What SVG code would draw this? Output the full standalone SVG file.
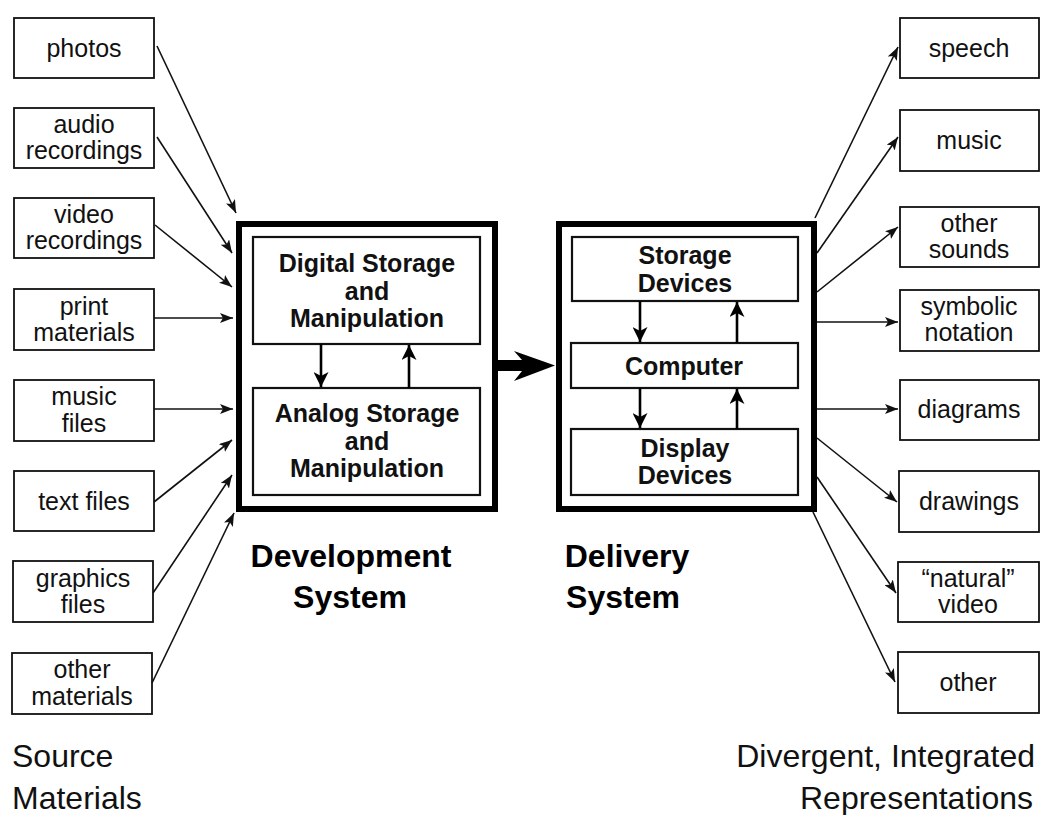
<svg xmlns="http://www.w3.org/2000/svg" width="1041" height="815" viewBox="0 0 1041 815">
  <style>
    .box { fill: #fff; stroke: #111; stroke-width: 1.8; }
    .inner { fill: #fff; stroke: #111; stroke-width: 2.2; }
    .outer { fill: #fff; stroke: #000; stroke-width: 6; }
    .lbl { font-family: "Liberation Sans", Arial, sans-serif; font-size: 25px; fill: #111; text-anchor: middle; }
    .blbl { font-family: "Liberation Sans", Arial, sans-serif; font-size: 25px; font-weight: bold; fill: #111; text-anchor: middle; }
    .title { font-family: "Liberation Sans", Arial, sans-serif; font-size: 32px; font-weight: bold; fill: #000; text-anchor: middle; }
    .cap { font-family: "Liberation Sans", Arial, sans-serif; font-size: 32px; fill: #111; }
    .conn { stroke: #111; stroke-width: 1.6; fill: none; marker-end: url(#ah); }
    .flow { stroke: #000; stroke-width: 2.6; fill: none; marker-end: url(#ahb); }
  </style>
  <defs>
    <marker id="ah" viewBox="0 0 13 10" refX="13" refY="5" markerWidth="13" markerHeight="10" orient="auto" markerUnits="userSpaceOnUse">
      <path d="M0,0 L13,5 L0,10 L3,5 z" fill="#111"/>
    </marker>
    <marker id="ahb" viewBox="0 0 15 15" refX="15" refY="7.5" markerWidth="15" markerHeight="15" orient="auto" markerUnits="userSpaceOnUse">
      <path d="M0,0 L15,7.5 L0,15 L4,7.5 z" fill="#000"/>
    </marker>
  </defs>

  <!-- source material boxes -->
  <g id="src-photos"><rect class="box" x="14" y="18" width="140" height="60"/><text class="lbl" x="84" y="57">photos</text></g>
  <g id="src-audio"><rect class="box" x="14" y="108" width="140" height="60"/><text class="lbl" x="84" y="133">audio</text><text class="lbl" x="84" y="159">recordings</text></g>
  <g id="src-video"><rect class="box" x="14" y="198" width="140" height="60"/><text class="lbl" x="84" y="223">video</text><text class="lbl" x="84" y="249">recordings</text></g>
  <g id="src-print"><rect class="box" x="14" y="289" width="140" height="61"/><text class="lbl" x="84" y="315">print</text><text class="lbl" x="84" y="341">materials</text></g>
  <g id="src-music"><rect class="box" x="14" y="380" width="140" height="61"/><text class="lbl" x="84" y="405">music</text><text class="lbl" x="84" y="432">files</text></g>
  <g id="src-text"><rect class="box" x="14" y="471" width="140" height="60"/><text class="lbl" x="84" y="510">text files</text></g>
  <g id="src-graphics"><rect class="box" x="13" y="561" width="140" height="61"/><text class="lbl" x="83" y="587">graphics</text><text class="lbl" x="83" y="613">files</text></g>
  <g id="src-other"><rect class="box" x="12" y="653" width="140" height="61"/><text class="lbl" x="82" y="678">other</text><text class="lbl" x="82" y="705">materials</text></g>

  <!-- development system -->
  <g id="dev-system">
    <rect class="outer" x="239" y="224" width="256" height="285"/>
    <g id="dev-digital">
      <rect class="inner" x="253" y="237" width="227" height="107"/>
      <text class="blbl" x="367" y="272">Digital Storage</text>
      <text class="blbl" x="367" y="300">and</text>
      <text class="blbl" x="367" y="327">Manipulation</text>
    </g>
    <g id="dev-analog">
      <rect class="inner" x="253" y="388" width="227" height="107"/>
      <text class="blbl" x="367" y="422">Analog Storage</text>
      <text class="blbl" x="367" y="450">and</text>
      <text class="blbl" x="367" y="477">Manipulation</text>
    </g>
    <text class="title" x="351" y="567">Development</text>
    <text class="title" x="350" y="608">System</text>
  </g>

  <!-- delivery system -->
  <g id="del-system">
    <rect class="outer" x="559" y="224" width="255" height="285"/>
    <g id="del-storage">
      <rect class="inner" x="572" y="237" width="226" height="64"/>
      <text class="blbl" x="685" y="264">Storage</text>
      <text class="blbl" x="685" y="292">Devices</text>
    </g>
    <g id="del-computer">
      <rect class="inner" x="571" y="343" width="227" height="45"/>
      <text class="blbl" x="684" y="375">Computer</text>
    </g>
    <g id="del-display">
      <rect class="inner" x="571" y="429" width="227" height="66"/>
      <text class="blbl" x="685" y="457">Display</text>
      <text class="blbl" x="685" y="484">Devices</text>
    </g>
    <text class="title" x="627" y="567">Delivery</text>
    <text class="title" x="623" y="608">System</text>
  </g>

  <!-- representation boxes -->
  <g id="out-speech"><rect class="box" x="900" y="18" width="139" height="60"/><text class="lbl" x="969" y="57">speech</text></g>
  <g id="out-music"><rect class="box" x="900" y="110" width="139" height="61"/><text class="lbl" x="969" y="149">music</text></g>
  <g id="out-sounds"><rect class="box" x="900" y="207" width="139" height="60"/><text class="lbl" x="969" y="232">other</text><text class="lbl" x="969" y="258">sounds</text></g>
  <g id="out-symbolic"><rect class="box" x="900" y="290" width="139" height="61"/><text class="lbl" x="969" y="315">symbolic</text><text class="lbl" x="969" y="341">notation</text></g>
  <g id="out-diagrams"><rect class="box" x="900" y="380" width="139" height="60"/><text class="lbl" x="969" y="418">diagrams</text></g>
  <g id="out-drawings"><rect class="box" x="899" y="471" width="140" height="61"/><text class="lbl" x="969" y="510">drawings</text></g>
  <g id="out-video"><rect class="box" x="898" y="562" width="141" height="60"/><text class="lbl" x="968" y="587">“natural”</text><text class="lbl" x="968" y="613">video</text></g>
  <g id="out-other"><rect class="box" x="898" y="652" width="141" height="61"/><text class="lbl" x="968" y="691">other</text></g>

  <!-- captions -->
  <g id="cap-source">
    <text class="cap" x="12" y="767">Source</text>
    <text class="cap" x="12" y="809">Materials</text>
  </g>
  <g id="cap-reps">
    <text class="cap" x="1035" y="767" text-anchor="end">Divergent, Integrated</text>
    <text class="cap" x="1033" y="809" text-anchor="end">Representations</text>
  </g>

  <!-- connectors -->
  <g id="connectors">
    <line class="conn" x1="157" y1="46" x2="236" y2="213"/>
    <line class="conn" x1="157" y1="137" x2="232" y2="253"/>
    <line class="conn" x1="155" y1="225" x2="232" y2="287"/>
    <line class="conn" x1="154" y1="318" x2="233" y2="318"/>
    <line class="conn" x1="154" y1="409" x2="233" y2="409"/>
    <line class="conn" x1="154" y1="502" x2="232" y2="440"/>
    <line class="conn" x1="153" y1="593" x2="232" y2="475"/>
    <line class="conn" x1="152" y1="683" x2="234" y2="513"/>

    <line class="conn" x1="815" y1="218" x2="898" y2="47"/>
    <line class="conn" x1="817" y1="253" x2="898" y2="137"/>
    <line class="conn" x1="817" y1="292" x2="898" y2="227"/>
    <line class="conn" x1="817" y1="322" x2="898" y2="322"/>
    <line class="conn" x1="817" y1="409" x2="898" y2="409"/>
    <line class="conn" x1="817" y1="438" x2="897" y2="502"/>
    <line class="conn" x1="817" y1="477" x2="896" y2="593"/>
    <line class="conn" x1="813" y1="512" x2="895" y2="682"/>

    <line class="flow" x1="321" y1="344" x2="321" y2="387"/>
    <line class="flow" x1="409" y1="388" x2="409" y2="345"/>
    <line class="flow" x1="640" y1="301" x2="640" y2="342"/>
    <line class="flow" x1="737" y1="343" x2="737" y2="302"/>
    <line class="flow" x1="640" y1="388" x2="640" y2="428"/>
    <line class="flow" x1="737" y1="429" x2="737" y2="389"/>

    <path d="M498,360 L522,360 L514,351 L555,365.5 L514,381 L522,371 L498,371 z" fill="#000"/>
  </g>
</svg>
